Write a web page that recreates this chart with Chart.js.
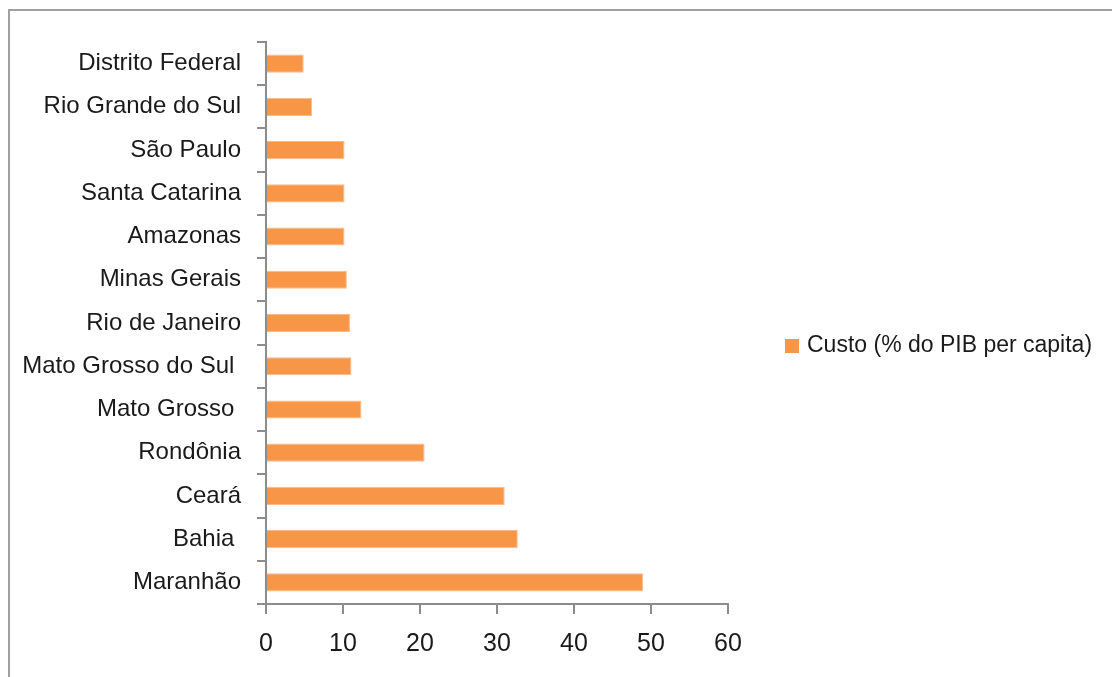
<!DOCTYPE html>
<html>
<head>
<meta charset="utf-8">
<script src="https://cdn.jsdelivr.net/npm/chart.js@4/dist/chart.umd.min.js"></script>
<style>
  html, body { margin: 0; padding: 0; background: #fff; }
  #box { width: 1112px; height: 677px; }
</style>
</head>
<body>
<div id="box"><canvas id="myChart" width="1112" height="677"></canvas></div>
<script>
const ctx = document.getElementById("myChart").getContext("2d");

// Dados
const estados = [
  "Distrito Federal",
  "Rio Grande do Sul",
  "São Paulo",
  "Santa Catarina",
  "Amazonas",
  "Minas Gerais",
  "Rio de Janeiro",
  "Mato Grosso do Sul ",
  "Mato Grosso ",
  "Rondônia",
  "Ceará",
  "Bahia ",
  "Maranhão",
];
const custoData = [4.9, 6.0, 10.2, 10.2, 10.2, 10.5, 10.9, 11.1, 12.4, 20.6, 31.0, 32.7, 49.0];
const serieLabel = "Custo (% do PIB per capita)";
const xTicks = [0, 10, 20, 30, 40, 50, 60];

const laranja = "#F79646";
const fonte = "'Liberation Sans', Arial, sans-serif";

// moldura cinza em volta do gráfico
const moldura = {
  id: "moldura",
  beforeDraw(chart) {
    const c = chart.ctx;
    c.save();
    c.strokeStyle = "#a0a0a0";
    c.lineWidth = 2;
    c.beginPath();
    c.moveTo(9, chart.height + 5);
    c.lineTo(9, 10);
    c.lineTo(chart.width + 5, 10);
    c.stroke();
    c.restore();
  }
};

// legenda desenhada à direita
const legendaDireita = {
  id: "legendaDireita",
  afterDraw(chart) {
    const c = chart.ctx;
    const ds = chart.data.datasets[0];
    const x = 785, y = 346;
    c.save();
    c.fillStyle = ds.backgroundColor;
    c.fillRect(x, y - 7, 14, 14);
    c.fillStyle = "#1a1a1a";
    c.font = "23px " + fonte;
    c.textBaseline = "middle";
    c.textAlign = "left";
    c.fillText(ds.label, x + 22, y);
    c.restore();
  }
};

const myChart = new Chart(ctx, {
  type: "bar",
  data: {
    labels: estados,
    datasets: [
      {
        label: serieLabel,
        data: custoData,
        backgroundColor: laranja,
        borderColor: "#fbb98a",
        borderWidth: 1,
        barPercentage: 0.42,
        categoryPercentage: 1,
      },
    ],
  },
  options: {
    indexAxis: "y",
    animation: { duration: 0 },
    responsive: false,
    layout: {
      padding: { left: 8, right: 384, top: 42, bottom: 0 }
    },
    scales: {
      x: {
        min: 0,
        max: 60,
        afterBuildTicks(scale) {
          scale.ticks = xTicks.map(v => ({ value: v }));
        },
        afterFit(scale) {
          scale.height = 73;
        },
        ticks: {
          color: "#1a1a1a",
          padding: 15,
          font: { size: 25, family: fonte }
        },
        grid: {
          drawOnChartArea: false,
          tickLength: 10,
          color: "#8c8c8c",
          lineWidth: 2
        },
        border: { color: "#8c8c8c", width: 2 }
      },
      y: {
        afterFit(scale) {
          scale.width = 258;
        },
        ticks: {
          color: "#1a1a1a",
          padding: 16,
          font: { size: 24, family: fonte }
        },
        grid: {
          drawOnChartArea: false,
          offset: true,
          tickLength: 9,
          color: "#8c8c8c",
          lineWidth: 2
        },
        border: { color: "#8c8c8c", width: 2 }
      }
    },
    plugins: {
      legend: { display: false },
      tooltip: { enabled: true }
    }
  },
  plugins: [moldura, legendaDireita]
});
</script>
</body>
</html>
